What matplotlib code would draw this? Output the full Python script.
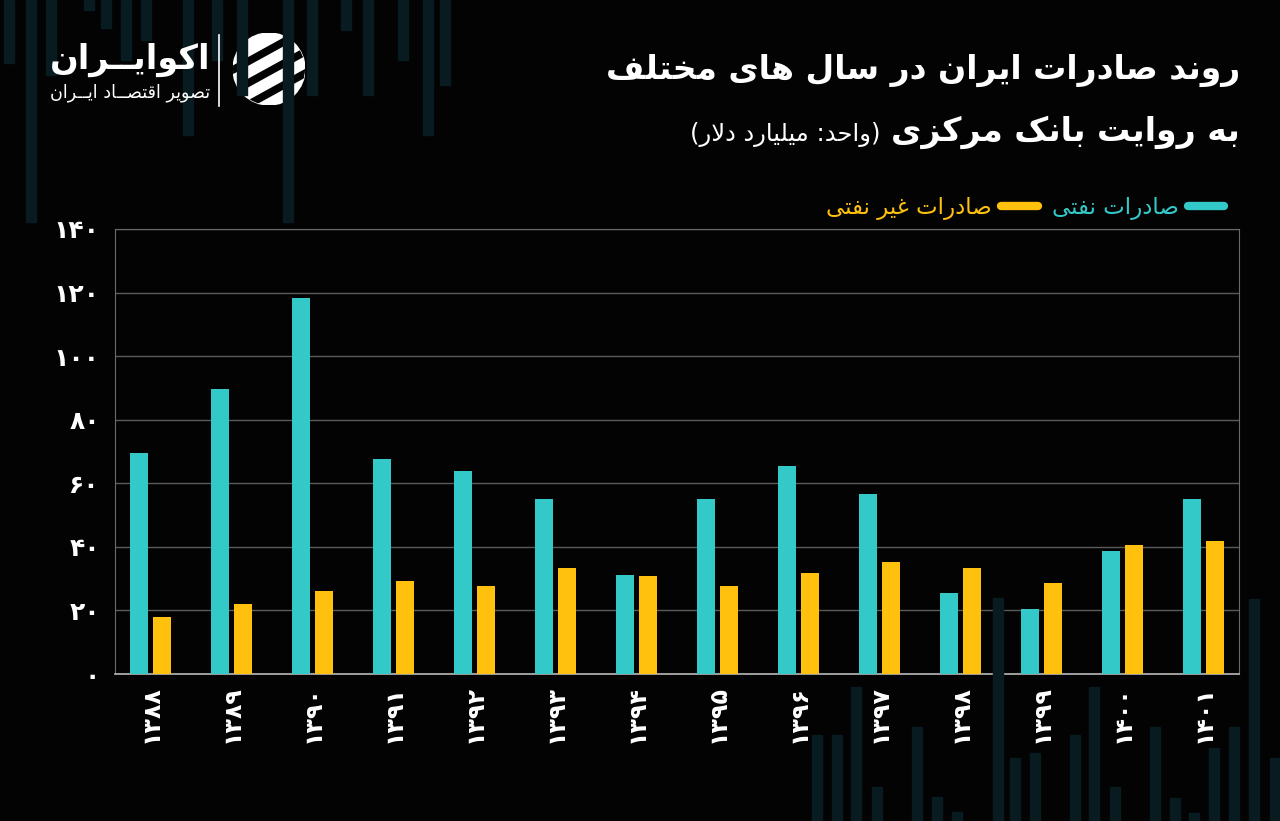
import matplotlib; matplotlib.use("Agg")
import matplotlib.pyplot as plt
from matplotlib.lines import Line2D
from matplotlib.patches import Rectangle, Circle
import numpy as np

W, H = 1280, 821
BG = "#030303"; TEAL = "#33C9C9"; YEL = "#FFC10E"; GRID = "#5a5a5a"; DECO = "#081b20"

# data (billion USD)
years = ["۱۳۸۸", "۱۳۸۹", "۱۳۹۰", "۱۳۹۱", "۱۳۹۲", "۱۳۹۳", "۱۳۹۴",
         "۱۳۹۵", "۱۳۹۶", "۱۳۹۷", "۱۳۹۸", "۱۳۹۹", "۱۴۰۰", "۱۴۰۱"]
oil = [69.4, 89.6, 118.3, 67.5, 64.0, 54.9, 31.3, 55.2, 65.3, 56.5, 25.6, 20.6, 38.6, 54.9]
non_oil = [18.0, 22.1, 26.2, 29.4, 27.8, 33.2, 30.7, 27.8, 31.9, 35.1, 33.5, 28.5, 40.5, 41.7]
yticks = [0, 20, 40, 60, 80, 100, 120, 140]
ytick_labels = ["۰", "۲۰", "۴۰", "۶۰", "۸۰", "۱۰۰", "۱۲۰", "۱۴۰"]

# minimal persian shaping: presentation forms + visual (reversed) order
D = {"ب": (0xFE8F, 0xFE90, 0xFE91, 0xFE92), "ت": (0xFE95, 0xFE96, 0xFE97, 0xFE98),
     "ح": (0xFEA1, 0xFEA2, 0xFEA3, 0xFEA4), "خ": (0xFEA5, 0xFEA6, 0xFEA7, 0xFEA8),
     "س": (0xFEB1, 0xFEB2, 0xFEB3, 0xFEB4), "ص": (0xFEB9, 0xFEBA, 0xFEBB, 0xFEBC),
     "غ": (0xFECD, 0xFECE, 0xFECF, 0xFED0), "ف": (0xFED1, 0xFED2, 0xFED3, 0xFED4),
     "ق": (0xFED5, 0xFED6, 0xFED7, 0xFED8), "ل": (0xFEDD, 0xFEDE, 0xFEDF, 0xFEE0),
     "م": (0xFEE1, 0xFEE2, 0xFEE3, 0xFEE4), "ن": (0xFEE5, 0xFEE6, 0xFEE7, 0xFEE8),
     "ه": (0xFEE9, 0xFEEA, 0xFEEB, 0xFEEC), "ی": (0xFBFC, 0xFBFD, 0xFBFE, 0xFBFF),
     "ک": (0xFB8E, 0xFB8F, 0xFB90, 0xFB91)}
R = {"ا": (0xFE8D, 0xFE8E), "د": (0xFEA9, 0xFEAA), "ر": (0xFEAD, 0xFEAE),
     "ز": (0xFEAF, 0xFEB0), "و": (0xFEED, 0xFEEE)}
TW = "ـ"
def jn(c): return c in D or c == TW
def jp(c): return c in D or c in R or c == TW
def fa(s):
    out = []; i = 0
    while i < len(s):
        c = s[i]; prev = s[i-1] if i else ""
        p = jn(prev) and jp(c)
        if c == "ل" and i+1 < len(s) and s[i+1] == "ا":
            out.append(chr(0xFEFC if p else 0xFEFB)); i += 2; continue
        nxt = s[i+1] if i+1 < len(s) else ""
        n = jn(c) and jp(nxt)
        if c in D:
            f = D[c]; out.append(chr(f[3] if p and n else f[2] if n else f[1] if p else f[0]))
        elif c in R:
            f = R[c]; out.append(chr(f[1] if p else f[0]))
        else:
            out.append(c)
        i += 1
    return "".join(reversed(out)).translate(str.maketrans("()", ")("))

def px(x, y): return x / W, 1 - y / H

plt.rcParams.update({"font.family": "DejaVu Sans", "text.color": "white"})
fig = plt.figure(figsize=(12.8, 8.21), dpi=100, facecolor=BG)

# decorative background bars
top_bars = [(4, 63), (26, 222), (46, 75), (84, 10), (101, 28), (121, 60), (141, 40), (183, 135),
            (212, 60), (237, 95), (283, 222), (307, 95), (341, 30), (363, 95), (398, 60),
            (423, 135), (440, 85)]
bot_bars = [(812, 735), (832, 735), (851, 687), (872, 787), (912, 727), (932, 797), (952, 812),
            (993, 598), (1010, 758), (1030, 753), (1070, 735), (1089, 687), (1110, 787),
            (1150, 727), (1170, 798), (1189, 813), (1209, 748), (1229, 727), (1249, 599), (1270, 758)]
for x, b in top_bars:
    fig.patches.append(Rectangle(px(x, b), 10 / W, b / H, transform=fig.transFigure, color=DECO, zorder=0))
for x, t in bot_bars:
    fig.patches.append(Rectangle(px(x, H), 10 / W, (H - t) / H, transform=fig.transFigure, color=DECO, zorder=0))

ax = fig.add_axes([115 / W, 1 - 674 / H, (1239 - 115) / W, (674 - 229) / H])
ax.set_facecolor("none")
x = np.arange(len(years))
ax.bar(x - 0.142, oil, width=0.222, color=TEAL, zorder=3)
ax.bar(x + 0.142, non_oil, width=0.222, color=YEL, zorder=3)
ax.set_xlim(-0.44, 13.44); ax.set_ylim(0, 140)
ax.set_yticks(yticks, ytick_labels)
ax.set_xticks(x, years, rotation=90)
ax.tick_params(length=0, colors="white", labelsize=18)
ax.tick_params(axis="y", pad=11)
ax.tick_params(axis="x", pad=8, labelsize=17)
for lab in ax.get_xticklabels() + ax.get_yticklabels():
    lab.set_fontweight("bold")
ax.grid(axis="y", color=GRID, lw=1, zorder=0)
for s in ["left", "right", "top"]:
    ax.spines[s].set_color("#6a6a6a")
ax.spines["bottom"].set_color("#b8b8b8"); ax.spines["bottom"].set_linewidth(1.2)

# legend (right-to-left)
hy = Line2D([], [], color=YEL, lw=6, solid_capstyle="round")
ht = Line2D([], [], color=TEAL, lw=6, solid_capstyle="round")
fig.legend(handles=[hy, ht], labels=[fa("صادرات غیر نفتی"), fa("صادرات نفتی")], ncol=2,
           markerfirst=False, loc="center right", bbox_to_anchor=px(1245, 208), frameon=False,
           labelcolor="linecolor", fontsize=16.5, handlelength=1.6, columnspacing=0.6, handletextpad=0.4)

# titles
r = fig.canvas.get_renderer()
def fit(t, wpx):
    t.set_fontsize(t.get_fontsize() * wpx / t.get_window_extent(r).width)
t1 = fig.text(*px(1240, 70), fa("روند صادرات ایران در سال های مختلف"), ha="right", va="center",
              fontsize=24, fontweight="bold")
fit(t1, 635)
t2 = fig.text(*px(1240, 132), fa("به روایت بانک مرکزی"), ha="right", va="center",
              fontsize=24, fontweight="bold")
fit(t2, 350)
t3 = fig.text(*px(880, 134), fa("(واحد: میلیارد دلار)"), ha="right", va="center", fontsize=14)
fit(t3, 192)

# logo
l1 = fig.text(*px(210, 60), fa("اکوایــران"), ha="right", va="center", fontsize=26, fontweight="bold")
fit(l1, 160)
l2 = fig.text(*px(210, 93), fa("تصویر اقتصــاد ایــران"), ha="right", va="center", fontsize=12)
fit(l2, 160)
fig.add_artist(Line2D([219 / W, 219 / W], [1 - 35 / H, 1 - 106 / H], color="white", lw=1.2))
iax = fig.add_axes([233 / W, 1 - 105 / H, 72 / W, 72 / H])
iax.set_xlim(-1, 1); iax.set_ylim(-1, 1); iax.set_aspect("equal"); iax.axis("off")
disc = Circle((0, 0), 1, color="white")
iax.add_patch(disc)
xs = np.linspace(-1.2, 1.2, 50)
for c in [-0.75, -0.15, 0.45]:
    iax.fill_between(xs, 0.55 * xs + c, 0.55 * xs + c + 0.2, color=BG, clip_path=disc)

fig.savefig("out.png", dpi=100, facecolor=BG)
